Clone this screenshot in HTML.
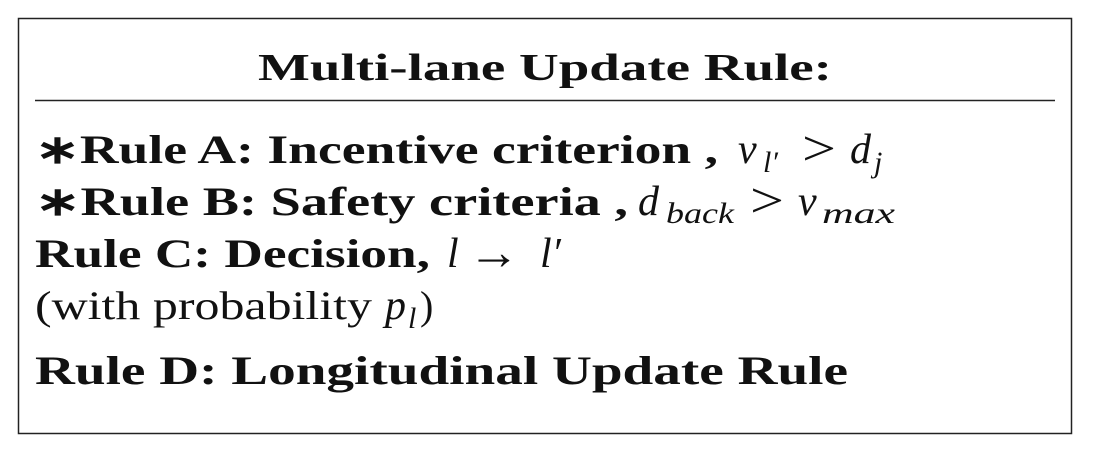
<!DOCTYPE html>
<html><head><meta charset="utf-8"><style>
html,body{margin:0;padding:0;background:#fff;}
svg{display:block;}
text{font-family:"Liberation Serif",serif;fill:#111;}
.b{font-weight:bold;font-size:40px;}
.i{font-style:italic;font-size:42px;}
.s{font-style:italic;font-size:30px;}
.g{font-size:50px;}
</style></head><body>
<svg width="1096" height="462" viewBox="0 0 1096 462">
<rect x="18.5" y="18.5" width="1053" height="415" fill="none" stroke="#222" stroke-width="1.5"/>
<text class="b" x="258" y="80" textLength="574" lengthAdjust="spacingAndGlyphs" style="font-size:38px">Multi-lane Update Rule:</text>
<line x1="35" y1="100.5" x2="1055" y2="100.5" stroke="#222" stroke-width="1.5"/>
<g>
<text class="b" x="35" y="163" textLength="683" lengthAdjust="spacingAndGlyphs">∗Rule A: Incentive criterion ,</text>
<text class="i" x="738" y="163">v</text><text class="s" x="763" y="172">l′</text>
<text class="g" x="802" y="165" textLength="34" lengthAdjust="spacingAndGlyphs">&gt;</text>
<text class="i" x="850" y="163">d</text><text class="s" x="874" y="172">j</text>
</g>
<g>
<text class="b" x="35" y="215" textLength="593" lengthAdjust="spacingAndGlyphs">∗Rule B: Safety criteria ,</text>
<text class="i" x="638" y="215">d</text><text class="s" x="666" y="223" textLength="68" lengthAdjust="spacingAndGlyphs">back</text>
<text class="g" x="750" y="217" textLength="34" lengthAdjust="spacingAndGlyphs">&gt;</text>
<text class="i" x="798" y="215">v</text><text class="s" x="822" y="223" textLength="73" lengthAdjust="spacingAndGlyphs">max</text>
</g>
<g>
<text class="b" x="35" y="267" textLength="395" lengthAdjust="spacingAndGlyphs">Rule C: Decision,</text>
<text class="i" x="447" y="267">l</text>
<text class="g" x="468" y="269" textLength="52" lengthAdjust="spacingAndGlyphs">→</text>
<text class="i" x="540" y="267">l′</text>
</g>
<g>
<text x="35" y="319" style="font-size:40px" textLength="337" lengthAdjust="spacingAndGlyphs">(with probability</text>
<text class="i" x="385" y="319">p</text><text class="s" x="408" y="328">l</text>
<text x="420" y="319" style="font-size:40px">)</text>
</g>
<text class="b" x="35" y="384" textLength="813" lengthAdjust="spacingAndGlyphs">Rule D: Longitudinal Update Rule</text>
</svg>
</body></html>
